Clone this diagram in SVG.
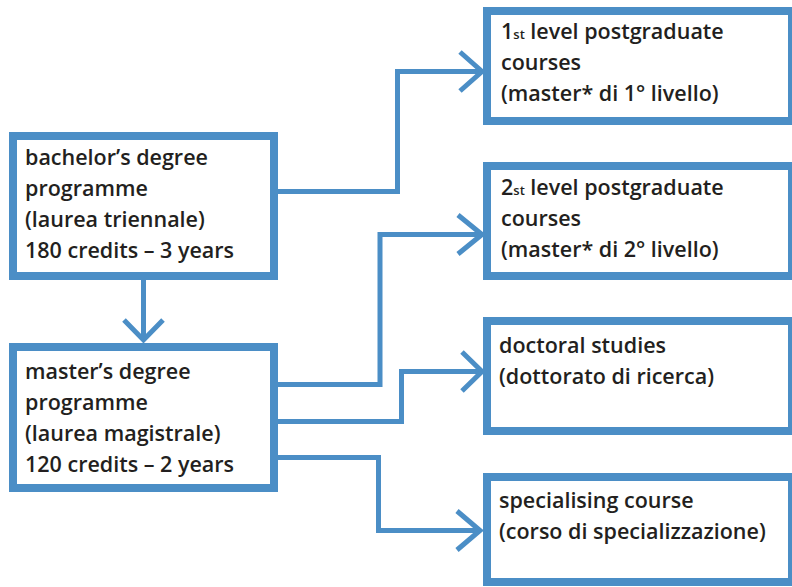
<svg xmlns="http://www.w3.org/2000/svg" width="792" height="587" viewBox="0 0 792 587">
<style>
.box{fill:#fff;stroke:#4b8ec6;stroke-width:8}
.ln{fill:none;stroke:#4b8ec6;stroke-width:5;stroke-linejoin:miter;stroke-linecap:butt}
.t{font-family:"Open Sans","Liberation Sans",sans-serif;font-weight:600;font-size:21.5px;fill:#231f20}
.sub{font-size:13px}
</style>
<rect width="792" height="587" fill="#fff"/>
<g id="connectors">
<path class="ln" d="M278 191.5H397.5V71.5H481"/>
<path class="ln" d="M460 52L482 71.5L460 91"/>
<path class="ln" d="M143.5 280V341"/>
<path class="ln" d="M124 320L143.5 340L163 320"/>
<path class="ln" d="M278 384.5H380V234.5H481"/>
<path class="ln" d="M458 215L482 234.5L458 254"/>
<path class="ln" d="M278 421.5H401.5V371.5H481"/>
<path class="ln" d="M462 352L482 371.5L462 391"/>
<path class="ln" d="M278 457.5H378.5V530.5H479"/>
<path class="ln" d="M457 511L480 530.5L457 550"/>
</g>
<g id="bachelor">
<rect class="box" x="13" y="136" width="261" height="140"/>
<text class="t" x="25" y="165">bachelor’s degree</text>
<text class="t" x="25" y="196">programme</text>
<text class="t" x="25" y="227">(laurea triennale)</text>
<text class="t" x="25" y="258">180 credits – 3 years</text>
</g>
<g id="master">
<rect class="box" x="13" y="347" width="261" height="141"/>
<text class="t" x="25" y="379">master’s degree</text>
<text class="t" x="25" y="410">programme</text>
<text class="t" x="25" y="441">(laurea magistrale)</text>
<text class="t" x="25" y="472">120 credits – 2 years</text>
</g>
<g id="level1">
<rect class="box" x="487" y="11" width="305" height="110"/>
<text class="t" x="501" y="39">1<tspan class="sub">st</tspan> level postgraduate</text>
<text class="t" x="501" y="70">courses</text>
<text class="t" x="501" y="101">(master* di 1° livello)</text>
</g>
<g id="level2">
<rect class="box" x="487" y="166" width="305" height="110"/>
<text class="t" x="501" y="195">2<tspan class="sub">st</tspan> level postgraduate</text>
<text class="t" x="501" y="226">courses</text>
<text class="t" x="501" y="257">(master* di 2° livello)</text>
</g>
<g id="doctoral">
<rect class="box" x="487" y="321" width="305" height="110"/>
<text class="t" x="499" y="353">doctoral studies</text>
<text class="t" x="499" y="384">(dottorato di ricerca)</text>
</g>
<g id="specialising">
<rect class="box" x="487" y="477" width="305" height="105"/>
<text class="t" x="499" y="508">specialising course</text>
<text class="t" x="499" y="539">(corso di specializzazione)</text>
</g>
</svg>
